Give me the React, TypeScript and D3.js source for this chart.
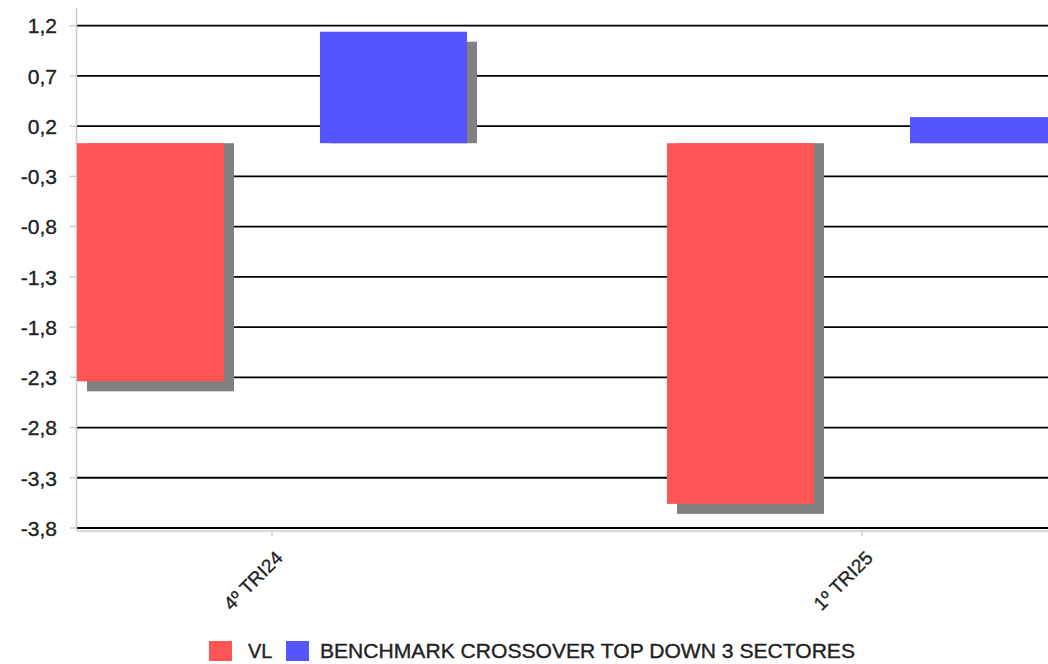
import React from "react";
import * as d3 from "d3";

const categories = ["4º TRI24", "1º TRI25"];
const seriesNames = ["VL", "BENCHMARK CROSSOVER TOP DOWN 3 SECTORES"];
const seriesColors = ["#FF5555", "#5555FF"];
const vlValues = [-2.37, -3.59];
const benchmarkValues = [1.11, 0.26];
const tickValues = [-3.83, -3.33, -2.83, -2.33, -1.83, -1.33, -0.83, -0.33, 0.17, 0.67, 1.17];

const W = 1048;
const H = 664;
const plotLeft = 77;
const plotTop = 8;
const plotBottom = 531;

export default function App() {
  const y = d3.scaleLinear().domain([-3.86, 1.346]).range([plotBottom, plotTop]);
  const x = d3
    .scaleBand<string>()
    .domain(categories)
    .range([plotLeft, 1057])
    .paddingInner(0.339)
    .paddingOuter(0);
  const sub = d3
    .scaleBand<string>()
    .domain(seriesNames)
    .range([0, x.bandwidth()])
    .paddingInner(0.395)
    .paddingOuter(0);
  const fmt = (v: number) => d3.format(".1f")(v).replace(".", ",").replace("−", "-");
  const series = [vlValues, benchmarkValues];
  const off = 10;
  const y0 = y(0);

  const bars: any[] = [];
  const shadows: any[] = [];
  categories.forEach((c, ci) => {
    series.forEach((vals, si) => {
      const v = vals[ci];
      const bx = (x(c) as number) + (sub(seriesNames[si]) as number);
      const bw = sub.bandwidth();
      const top = Math.min(y(v), y0);
      const bot = Math.max(y(v), y0);
      let sTop = top;
      let sBot = bot;
      if (v >= 0) {
        sTop = top + off;
      } else {
        sBot = bot + off;
      }
      shadows.push(
        <rect key={`s${ci}${si}`} x={bx + off} y={sTop} width={bw} height={Math.max(0, sBot - sTop)} fill="#808080" />
      );
      bars.push(
        <rect key={`b${ci}${si}`} x={bx} y={top} width={bw} height={bot - top} fill={seriesColors[si]} />
      );
    });
  });

  const textStyle = { stroke: "#222", strokeWidth: 0.35 };

  return (
    <svg
      width={W}
      height={H}
      style={{ position: "absolute", left: 0, top: 0, background: "#fff" }}
      fontFamily="'Liberation Sans', Arial, sans-serif"
    >
      <rect x={0} y={0} width={W} height={H} fill="#fff" />
      {tickValues.map((t) => (
        <line key={`g${t}`} x1={plotLeft} x2={W} y1={y(t)} y2={y(t)} stroke="#000" strokeWidth={1.8} />
      ))}
      <line x1={plotLeft - 0.5} x2={plotLeft - 0.5} y1={plotTop} y2={plotBottom} stroke="#cccccc" strokeWidth={1.5} />
      <line x1={plotLeft} x2={W} y1={plotBottom} y2={plotBottom} stroke="#cccccc" strokeWidth={1.5} />
      {tickValues.map((t) => (
        <g key={`t${t}`}>
          <line x1={70} x2={plotLeft - 1} y1={y(t)} y2={y(t)} stroke="#cccccc" strokeWidth={1.5} />
          <text x={57} y={y(t)} dy="0.37em" textAnchor="end" fontSize={21} fill="#222" style={textStyle}>
            {fmt(t)}
          </text>
        </g>
      ))}
      {shadows}
      {bars}
      {categories.map((c) => {
        const cx = (x(c) as number) + x.bandwidth() / 2;
        return (
          <g key={`x${c}`}>
            <line x1={cx} x2={cx} y1={plotBottom} y2={plotBottom + 5} stroke="#cccccc" strokeWidth={1.5} />
            <text
              transform={`translate(${cx + 12},${plotBottom + 28}) rotate(-45)`}
              textAnchor="end"
              fontSize={19}
              fill="#222"
              style={textStyle}
            >
              {c}
            </text>
          </g>
        );
      })}
      <rect x={209} y={641} width={23} height={20} fill={seriesColors[0]} />
      <text x={248} y={658} fontSize={20} fill="#222" style={textStyle}>{seriesNames[0]}</text>
      <rect x={286} y={641} width={23} height={20} fill={seriesColors[1]} />
      <text x={320} y={658} fontSize={20} fill="#222" textLength={535} lengthAdjust="spacingAndGlyphs" style={textStyle}>
        {seriesNames[1]}
      </text>
    </svg>
  );
}
